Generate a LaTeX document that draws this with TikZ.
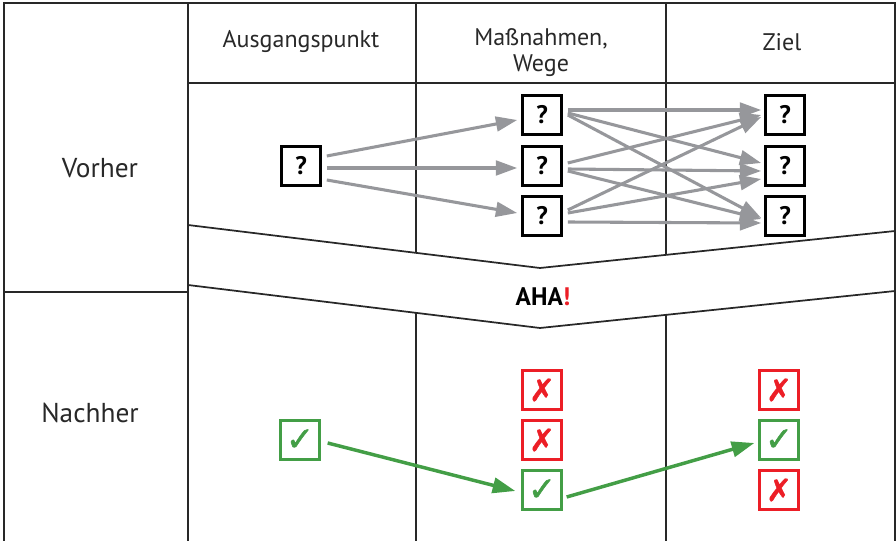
\documentclass[tikz,border=0pt]{standalone}
\usepackage{fontspec}
\setmainfont{PT Sans}
\newfontfamily\symfont[FakeBold=1.6]{DejaVu Sans}
\usetikzlibrary{arrows.meta,calc}
\definecolor{frame}{RGB}{40,40,40}
\definecolor{arrowgray}{RGB}{150,151,155}
\definecolor{okgreen}{RGB}{67,158,70}
\definecolor{nored}{RGB}{236,30,38}
\tikzset{
  grid/.style={draw=frame,line width=1.3pt},
  qbox/.style={draw=black,line width=2.2pt,minimum size=29pt,inner sep=0pt,
    font=\bfseries\fontsize{19}{19}\selectfont},
  okbox/.style={draw=okgreen,line width=2pt,minimum size=29pt,inner sep=0pt,
    text=okgreen,font=\symfont\fontsize{25}{25}\selectfont},
  nobox/.style={draw=nored,line width=2pt,minimum size=29pt,inner sep=0pt,
    text=nored,font=\symfont\fontsize{23}{23}\selectfont},
  garrow/.style={draw=arrowgray,line width=2.3pt,
    -{Triangle[length=16pt,width=11pt]}},
  carrow/.style={draw=okgreen,line width=2.6pt,
    -{Triangle[length=17pt,width=11.5pt]}},
  headtext/.style={font=\fontsize{18}{19.5}\selectfont,align=center,text=frame},
  rowtext/.style={font=\fontsize{20.5}{22}\selectfont,text=frame},
}
\begin{document}
\begin{tikzpicture}[x=0.75pt,y=-0.75pt]
\useasboundingbox (0,0) rectangle (896,541);

% table frame
\draw[grid] (4,541) -- (4,3) -- (895,3) -- (895,541);
\draw[grid] (188,3) -- (188,541);
\draw[grid] (188,83) -- (895,83);
\draw[grid] (4,292) -- (188,292);
% inner column lines, cut by the band
\draw[grid] (416,3) -- (416,252.8);
\draw[grid] (416,312.9) -- (416,541);
\draw[grid] (666,3) -- (666,254.9);
\draw[grid] (666,314.9) -- (666,541);
% the chevron band
\draw[grid] (188,225) -- (540,268) -- (895,231);
\draw[grid] (188,285) -- (540,328) -- (895,291);

% headings
\node[headtext] (hA) at (301,42) {Ausgangspunkt};
\node[headtext] (hM) at (541,53) {Maßnahmen,\\Wege};
\node[headtext] (hZ) at (782,42) {Ziel};
\node[rowtext] (rV) at (100,168) {Vorher};
\node[rowtext] (rN) at (90,413) {Nachher};
\node[font=\bfseries\fontsize{19}{19}\selectfont] (aha) at (543,297)
  {AHA\textcolor{nored}{!}};

% before: question boxes
\node[qbox] (q0) at (301,166) {?};
\node[qbox] (m1) at (542,115) {?};
\node[qbox] (m2) at (542,166) {?};
\node[qbox] (m3) at (542,216) {?};
\node[qbox] (r1) at (785,115) {?};
\node[qbox] (r2) at (785,166) {?};
\node[qbox] (r3) at (785,216) {?};

\draw[garrow] ($(q0.east)+(5,-10)$) -- ($(m1.west)+(-4,5)$);
\draw[garrow] ($(q0.east)+(5,2)$) -- ($(m2.west)+(-4,2)$);
\draw[garrow] ($(q0.east)+(5,14)$) -- ($(m3.west)+(-4,-3)$);

\draw[garrow] ($(m1.east)+(5,-5)$) -- ($(r1.west)+(-3,-5)$);
\draw[garrow] ($(m1.east)+(5,-2)$) -- ($(r2.west)+(-3,-3)$);
\draw[garrow] ($(m1.east)+(5,0)$) -- ($(r3.west)+(-3,2)$);
\draw[garrow] ($(m2.east)+(5,-3)$) -- ($(r1.west)+(-3,0)$);
\draw[garrow] ($(m2.east)+(5,3)$) -- ($(r2.west)+(-3,5)$);
\draw[garrow] ($(m2.east)+(5,5)$) -- ($(r3.west)+(-3,3)$);
\draw[garrow] ($(m3.east)+(5,-6)$) -- ($(r1.west)+(-3,2)$);
\draw[garrow] ($(m3.east)+(5,-3)$) -- ($(r2.west)+(-3,13)$);
\draw[garrow] ($(m3.east)+(5,6)$) -- ($(r3.west)+(-3,7)$);

% after: checked path
\node[okbox] (g0) at (300,440) {✓};
\node[nobox] (gm1) at (542,390) {✗};
\node[nobox] (gm2) at (542,440) {✗};
\node[okbox] (gm3) at (542,490) {✓};
\node[nobox] (gr1) at (779,390) {✗};
\node[okbox] (gr2) at (779,440) {✓};
\node[nobox] (gr3) at (779,490) {✗};

\draw[carrow] ($(g0.east)+(7,3)$) -- ($(gm3.west)+(-6,1)$);
\draw[carrow] ($(gm3.east)+(4,7)$) -- ($(gr2.west)+(-4,3)$);
\end{tikzpicture}
\end{document}
